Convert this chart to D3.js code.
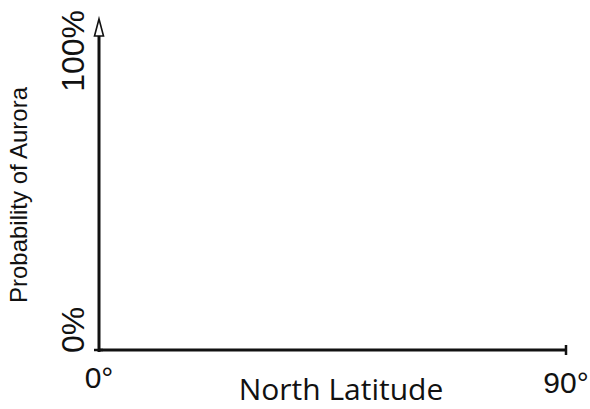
<!DOCTYPE html>
<html><head><meta charset="utf-8">
<script src="https://cdn.jsdelivr.net/npm/d3@7"></script>
<style>body{margin:0;background:#fff}</style>
</head><body>
<svg id="c" width="590" height="409"></svg>
<script>
const xTicks = [0, 90];
const xTickLabels = ["0°", "90°"];
const yTicks = [0, 100];
const yTickLabels = ["0%", "100%"];
const xTitle = "North Latitude";
const yTitle = "Probability of Aurora";

const svg = d3.select("#c");
const x = d3.scaleLinear().domain([0, 90]).range([99, 566]);
const y = d3.scaleLinear().domain([0, 100]).range([350, 20]);

// x axis line
svg.append("line").attr("x1",x(0)).attr("x2",x(90)).attr("y1",y(0)).attr("y2",y(0))
  .attr("stroke","#111").attr("stroke-width",3);
// y axis line
svg.append("line").attr("x1",x(0)).attr("x2",x(0)).attr("y1",y(0)+2).attr("y2",y(100)+16)
  .attr("stroke","#111").attr("stroke-width",3);
// arrow head
const ax = x(0), ay = y(100);
svg.append("path").attr("d",`M${ax},${ay-1} L${ax+4.5},${ay+16} L${ax-4.5},${ay+16} Z`)
  .attr("fill","#fff").attr("stroke","#111").attr("stroke-width",1.6).attr("stroke-linejoin","miter");
// ticks
svg.append("line").attr("x1",x(90)).attr("x2",x(90)).attr("y1",y(0)-5).attr("y2",y(0)+5)
  .attr("stroke","#111").attr("stroke-width",2.5);
svg.append("line").attr("x1",x(0)-5).attr("x2",x(0)+4).attr("y1",y(0)).attr("y2",y(0))
  .attr("stroke","#111").attr("stroke-width",2.5);

// x tick labels
svg.selectAll(".xl").data(xTicks).enter().append("text")
  .attr("x",d=>x(d)).attr("y",(d,i)=> i===0?388:393)
  .attr("text-anchor","middle").attr("font-family","Liberation Sans, Arial, sans-serif")
  .attr("font-size",30).attr("fill","#111").text((d,i)=>xTickLabels[i]);

// y tick labels (rotated)
svg.selectAll(".yl").data(yTicks).enter().append("text")
  .attr("transform",(d,i)=>`translate(84,${i===0? y(d)+3 : y(d)-10}) rotate(-90)`)
  .attr("text-anchor",(d,i)=> i===0?"start":"end")
  .attr("font-family","Liberation Sans, Arial, sans-serif")
  .attr("font-size",32).attr("fill","#111").text((d,i)=>yTickLabels[i]);

// titles
svg.append("text").attr("x",341).attr("y",400).attr("text-anchor","middle")
  .attr("font-family","Open Sans, sans-serif").attr("font-size",30).attr("fill","#111").text(xTitle);
svg.append("text").attr("transform","translate(27,195) rotate(-90)").attr("text-anchor","middle")
  .attr("font-family","Liberation Sans, Arial, sans-serif").attr("font-size",24).attr("fill","#111").text(yTitle);
</script>
</body></html>
